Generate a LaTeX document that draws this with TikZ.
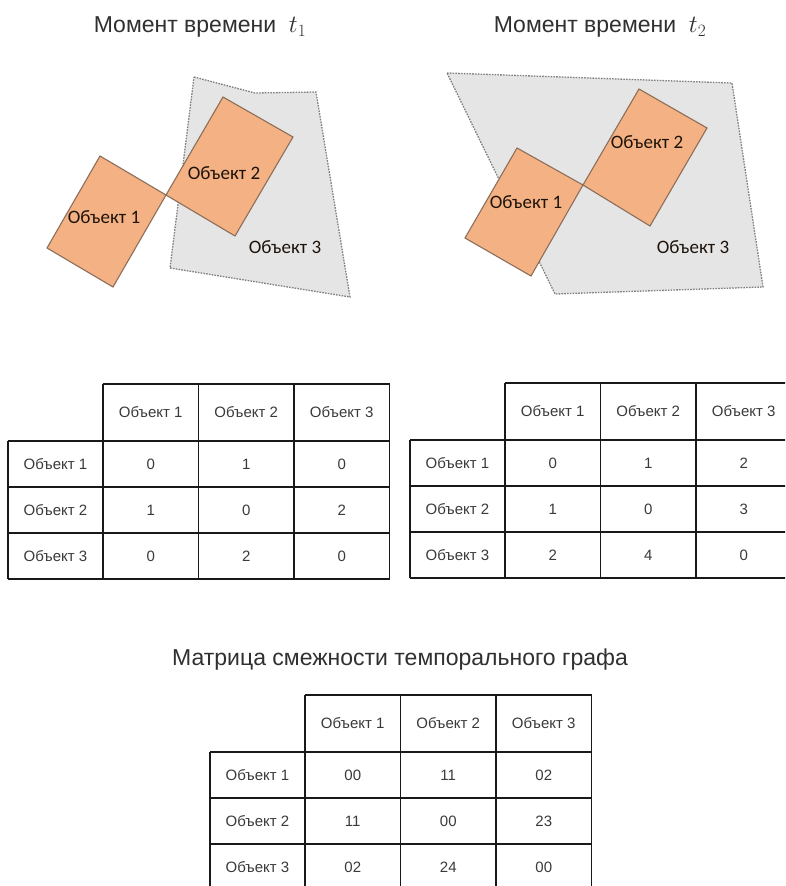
\documentclass[tikz,border=0pt]{standalone}
\usepackage{fontspec}
\setmainfont{Liberation Sans}
\newfontfamily\labelfont{Carlito}
\definecolor{objfill}{HTML}{F4B183}
\definecolor{objedge}{HTML}{8C6E5A}
\definecolor{zonefill}{HTML}{E5E5E5}
\definecolor{zoneedge}{HTML}{808080}
\definecolor{celltext}{HTML}{3A3A3A}
\definecolor{titletext}{HTML}{303030}

\tikzset{
  objrect/.style={fill=objfill, draw=objedge, line width=1.1pt, line join=miter},
  zone/.style={fill=zonefill, draw=zoneedge, line width=1.3pt, dash pattern=on 1.6pt off 1.2pt},
  objlabel/.style={font=\labelfont\fontsize{19}{22}\selectfont, text=black!85!brown, inner sep=0pt},
  heading/.style={font=\fontsize{23}{27}\selectfont, text=titletext, inner sep=0pt},
  cell/.style={font=\fontsize{15}{18}\selectfont, text=celltext, inner sep=0pt},
  grid line/.style={line width=1.6pt, draw=black!90},
}

% adjacency table: #1 name, #2 top-left corner of the row-label column, #3 nine values row by row
\newcommand\adjtable[3]{%
  \begin{scope}[shift={#2}]
    % outline and rules
    \draw[grid line] (95,0) -- (381.5,0);
    \foreach \yy in {57,103,149,195} \draw[grid line] (0,\yy) -- (381.5,\yy);
    \draw[grid line] (0,57) -- (0,195);
    \foreach \xx in {95,190.5,286,381.5} \draw[grid line] (\xx,0) -- (\xx,195);
    % headers
    \foreach \k in {1,2,3} {
      \node[cell] (#1-h\k) at ({95+95.5*(\k-1)+47.75},28.5) {Объект \k};
      \node[cell] (#1-r\k) at (47.5,{57+46*(\k-1)+23}) {Объект \k};
    }
    % values
    \foreach \v [count=\i from 0] in {#3} {
      \pgfmathtruncatemacro\rr{\i/3}
      \pgfmathtruncatemacro\cc{mod(\i,3)}
      \node[cell] (#1-\rr-\cc) at ({95+95.5*\cc+47.75},{57+46*\rr+23}) {\v};
    }
  \end{scope}}

\begin{document}
\begin{tikzpicture}[x=1pt,y=-1pt]
  \useasboundingbox (0,0) rectangle (785,886);
  \clip (0,0) rectangle (785,886);
  \fill[white] (0,0) rectangle (785,886);

  % ---- first moment ----
  \node[heading] (title1) at (200,27) {Момент времени \ $t_1$};
  \draw[zone] (194,77) -- (255,93) -- (316,92) -- (350,297) -- (170,268) -- cycle;
  \draw[objrect] (100,156) -- (166,195) -- (113,287) -- (47,248) -- cycle;
  \draw[objrect] (166,195) -- (223,97) -- (293,137) -- (235,236) -- cycle;
  \node[objlabel] (a1) at (104,217) {Объект 1};
  \node[objlabel] (a2) at (224,173) {Объект 2};
  \node[objlabel] (a3) at (285,247) {Объект 3};

  % ---- second moment ----
  \node[heading] (title2) at (600,27) {Момент времени \ $t_2$};
  \draw[zone] (447,73) -- (732,83) -- (763,287) -- (555,294) -- cycle;
  \draw[objrect] (517,148) -- (583,185) -- (531,276) -- (465,238) -- cycle;
  \draw[objrect] (583,185) -- (639,89) -- (707,128) -- (650,226) -- cycle;
  \node[objlabel] (b1) at (526,202) {Объект 1};
  \node[objlabel] (b2) at (647,142) {Объект 2};
  \node[objlabel] (b3) at (693,247) {Объект 3};

  % ---- tables ----
  \adjtable{ta}{(8,384)}{0,1,0,1,0,2,0,2,0}
  \adjtable{tb}{(410,383)}{0,1,2,1,0,3,2,4,0}

  \node[heading] (title3) at (400,660) {Матрица смежности темпорального графа};
  \adjtable{tc}{(210,695)}{00,11,02,11,00,23,02,24,00}
\end{tikzpicture}
\end{document}
